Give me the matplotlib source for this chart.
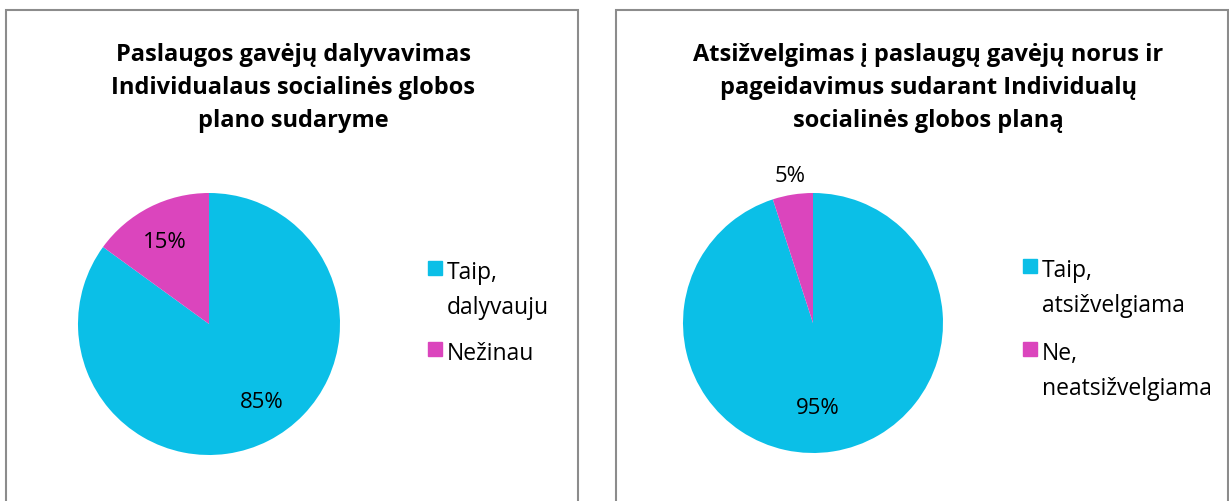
import matplotlib
matplotlib.use("Agg")
import matplotlib.pyplot as plt
from matplotlib.patches import Rectangle

plt.rcParams['font.family'] = ['Open Sans', 'DejaVu Sans']

W, H = 1229, 502

titles = ["Paslaugos gavėjų dalyvavimas\nIndividualaus socialinės globos\nplano sudaryme",
          "Atsižvelgimas į paslaugų gavėjų norus ir\npageidavimus sudarant Individualų\nsocialinės globos planą"]
labels_left = ["Taip,\ndalyvauju", "Nežinau"]
values_left = [85, 15]
labels_right = ["Taip,\natsižvelgiama", "Ne,\nneatsižvelgiama"]
values_right = [95, 5]
colors = ["#0BBFE7", "#DB45BD"]

fig = plt.figure(figsize=(W / 100, H / 100), dpi=100)

def px(x, y):
    return x / W, 1 - y / H

# panel borders
for x0, x1 in [(6, 578), (616, 1228)]:
    fig.patches.append(Rectangle((x0 / W, -0.05), (x1 - x0) / W, 1 - 11 / H + 0.05,
                                 transform=fig.transFigure, fill=False,
                                 edgecolor="#8c8c8c", linewidth=1.5))

def pie_panel(cx, cy, r, values, labels, title, tx, lx, pct_pos, legend_y):
    ax = fig.add_axes([(cx - r) / W, 1 - (cy + r) / H, 2 * r / W, 2 * r / H])
    ax.pie(values, colors=colors, startangle=90, counterclock=False,
           wedgeprops=dict(linewidth=0))
    ax.set_xlim(-1, 1)
    ax.set_ylim(-1, 1)
    ax.axis('off')
    x, y = px(tx, 88)
    fig.text(x, y, title, ha='center', va='center', fontsize=17, fontweight='bold',
             linespacing=1.5)
    for v, (p, q) in zip(values, pct_pos):
        x, y = px(p, q)
        fig.text(x, y, f"{v}%", ha='center', va='center', fontsize=16)
    for lab, c, ly in zip(labels, colors, legend_y):
        x, y = px(lx, ly)
        fig.patches.append(Rectangle((x, y - 7 / H), 14 / W, 14 / H,
                                     transform=fig.transFigure, color=c))
        fig.text(x + 19 / W, y + 8 / H, lab, ha='left', va='top', fontsize=16.5,
                 linespacing=1.6)

pie_panel(209, 325, 131, values_left, labels_left, titles[0], 293, 428,
          [(262, 403), (165, 243)], [269, 350])
pie_panel(813, 324, 130, values_right, labels_right, titles[1], 928, 1023,
          [(818, 408), (790, 177)], [267, 350])

fig.savefig("out.png", dpi=100)
